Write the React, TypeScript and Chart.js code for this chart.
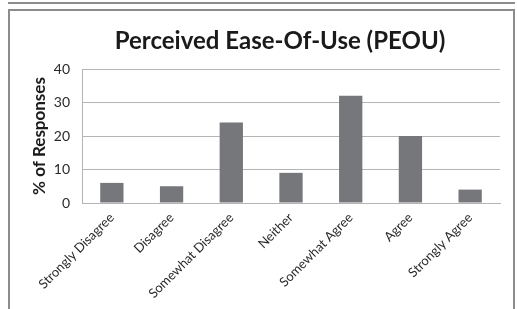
import React, { useEffect, useRef } from "react";
import { Chart, registerables } from "chart.js";

Chart.register(...registerables);

const categories = [
  "Strongly Disagree",
  "Disagree",
  "Somewhat Disagree",
  "Neither",
  "Somewhat Agree",
  "Agree",
  "Strongly Agree",
];
const responses = [6, 5, 24, 9, 32, 20, 4];
const yTicks = [0, 10, 20, 30, 40];
const titleText = "Perceived Ease-Of-Use (PEOU)";
const yTitleText = "% of Responses";

const FONT = "Lato, 'Open Sans', sans-serif";

const titlePlugin = {
  id: "offsetTitle",
  afterDraw(chart: any) {
    const ctx = chart.ctx;
    ctx.save();
    ctx.font = `bold 24px ${FONT}`;
    ctx.fillStyle = "#1a1a1a";
    ctx.textAlign = "center";
    ctx.textBaseline = "middle";
    ctx.fillText(titleText, 280, 41);
    ctx.restore();
  },
};

export default function App() {
  const ref = useRef<HTMLCanvasElement | null>(null);

  useEffect(() => {
    if (!ref.current) return;
    const chart = new Chart(ref.current, {
      type: "bar",
      data: {
        labels: categories,
        datasets: [
          {
            data: responses,
            backgroundColor: "#76777b",
            borderWidth: 0,
            barPercentage: 0.39,
            categoryPercentage: 1,
          },
        ],
      },
      plugins: [titlePlugin],
      options: {
        animation: false,
        responsive: false,
        maintainAspectRatio: false,
        layout: { padding: { left: 25, right: 17, top: 69, bottom: 0 } },
        plugins: {
          legend: { display: false },
          tooltip: { enabled: false },
          title: { display: false },
        },
        scales: {
          x: {
            grid: { display: false, drawTicks: false },
            border: { display: true, color: "#b4b4b4", width: 1 },
            ticks: {
              color: "#2a2a2a",
              font: { family: FONT, size: 13 },
              maxRotation: 45,
              minRotation: 45,
              padding: 7,
              autoSkip: false,
            },
            afterFit: (scale: any) => {
              scale.height = 106;
            },
          },
          y: {
            min: 0,
            max: 40,
            afterBuildTicks: (scale: any) => {
              scale.ticks = yTicks.map((v) => ({ value: v }));
            },
            grid: { color: "#b4b4b4", drawTicks: false, lineWidth: 1 },
            border: { display: true, color: "#b4b4b4", width: 1 },
            ticks: {
              color: "#2a2a2a",
              font: { family: FONT, size: 14 },
              padding: 12,
            },
            title: {
              display: true,
              text: yTitleText,
              color: "#1a1a1a",
              font: { family: FONT, size: 17, weight: "bold" },
              padding: { top: 4, bottom: 4 },
            },
            afterFit: (scale: any) => {
              scale.width = 57;
            },
          },
        },
      },
    });
    return () => chart.destroy();
  }, []);

  return (
    <div style={{ position: "fixed", left: 0, top: 0, width: 517, height: 309, background: "#fff" }}>
      <div style={{ position: "absolute", left: 8, top: 2, width: 507, height: 2, background: "#8c8c8c" }} />
      <div style={{ position: "absolute", left: 8, top: 9, width: 2, height: 300, background: "#8c8c8c" }} />
      <div style={{ position: "absolute", left: 8, top: 9, width: 507, height: 2, background: "#8c8c8c" }} />
      <div style={{ position: "absolute", left: 513, top: 9, width: 2, height: 300, background: "#8c8c8c" }} />
      <canvas ref={ref} width={517} height={309} style={{ position: "absolute", left: 0, top: 0, width: 517, height: 309 }} />
    </div>
  );
}
